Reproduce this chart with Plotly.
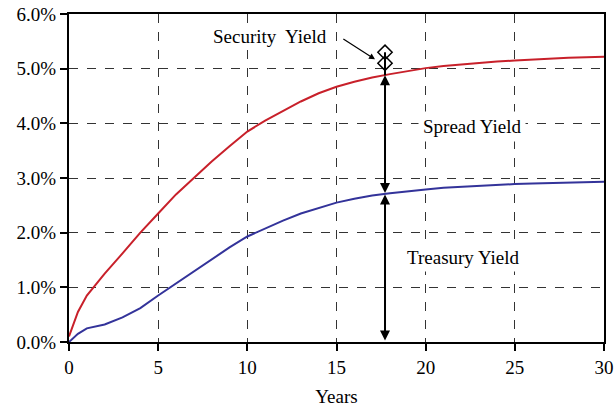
import plotly.graph_objects as go

years = [0, 0.5, 1, 2, 3, 4, 5, 6, 7, 8, 9, 10, 11, 12, 13, 14, 15, 16, 17, 18, 19, 20,
         21, 22, 23, 24, 25, 26, 27, 28, 29, 30]
security_yield = [0.10, 0.55, 0.85, 1.25, 1.62, 2.00, 2.35, 2.70, 3.00, 3.30, 3.58, 3.85,
                  4.05, 4.22, 4.40, 4.55, 4.67, 4.76, 4.84, 4.90, 4.96, 5.01, 5.05, 5.08,
                  5.10, 5.13, 5.15, 5.17, 5.18, 5.20, 5.21, 5.22]
treasury_yield = [0.00, 0.15, 0.25, 0.32, 0.45, 0.62, 0.85, 1.07, 1.30, 1.52, 1.73, 1.93,
                  2.08, 2.22, 2.35, 2.45, 2.55, 2.62, 2.68, 2.72, 2.76, 2.79, 2.82, 2.84,
                  2.86, 2.88, 2.89, 2.90, 2.91, 2.92, 2.92, 2.93]
x_ticks = [0, 5, 10, 15, 20, 25, 30]
y_ticks = [0, 1, 2, 3, 4, 5, 6]
y_tick_labels = ["0.0%", "1.0%", "2.0%", "3.0%", "4.0%", "5.0%", "6.0%"]

marker_x = 17.72
treasury_at_marker = 2.70
security_at_marker = 4.88
diamond_y = [5.10, 5.30]

FONT = "Liberation Serif, Times New Roman, serif"

fig = go.Figure()
fig.add_trace(go.Scatter(x=years, y=security_yield, mode="lines",
                         line=dict(color="#C8202A", width=2), showlegend=False))
fig.add_trace(go.Scatter(x=years, y=treasury_yield, mode="lines",
                         line=dict(color="#33339A", width=2), showlegend=False))
fig.add_trace(go.Scatter(x=[marker_x, marker_x], y=[security_at_marker, diamond_y[1]],
                         mode="lines", line=dict(color="black", width=2), showlegend=False))
fig.add_trace(go.Scatter(x=[marker_x] * len(diamond_y), y=diamond_y, mode="markers",
                         marker=dict(symbol="diamond-open", size=11, color="black",
                                     line=dict(width=1.5, color="black")),
                         showlegend=False))

arrow_common = dict(xref="x", yref="y", axref="x", ayref="y", text="", showarrow=True,
                    arrowhead=2, startarrowhead=2, arrowside="end+start",
                    arrowsize=1, arrowwidth=2, arrowcolor="black")
fig.add_annotation(x=marker_x, y=treasury_at_marker, ax=marker_x, ay=0, **arrow_common)
fig.add_annotation(x=marker_x, y=security_at_marker, ax=marker_x, ay=treasury_at_marker,
                   **arrow_common)

fig.add_annotation(x=17.16, y=5.17, ax=15.3, ay=5.56, xref="x", yref="y", axref="x",
                   ayref="y", text="", showarrow=True, arrowhead=2, arrowsize=1,
                   arrowwidth=1.2, arrowcolor="black")
label_font = dict(family=FONT, size=19, color="black")
fig.add_annotation(x=11.27, y=5.58, xref="x", yref="y", text="Security  Yield",
                   showarrow=False, font=label_font, bgcolor="white")
fig.add_annotation(x=22.6, y=3.95, xref="x", yref="y", text="Spread Yield",
                   showarrow=False, font=label_font, bgcolor="white", borderpad=4)
fig.add_annotation(x=22.1, y=1.54, xref="x", yref="y", text="Treasury Yield",
                   showarrow=False, font=label_font, bgcolor="white", borderpad=3)

fig.update_layout(
    width=615, height=407,
    margin=dict(l=69, r=11, t=14, b=65, autoexpand=False),
    paper_bgcolor="white", plot_bgcolor="white",
    font=dict(family=FONT, size=19, color="black"),
    xaxis=dict(range=[0, 30], tickvals=x_ticks, showgrid=True, gridcolor="#333333",
               griddash="dash", gridwidth=1, showline=True, linecolor="black", linewidth=2,
               mirror=True, ticks="outside", ticklen=7, tickwidth=2, tickcolor="black",
               zeroline=False, automargin=False,
               title=dict(text="Years", standoff=13, font=dict(family=FONT, size=19)),
               tickfont=dict(family=FONT, size=19)),
    yaxis=dict(range=[0, 6], tickvals=y_ticks, ticktext=y_tick_labels, showgrid=True,
               gridcolor="#333333", griddash="dash", gridwidth=1, showline=True,
               linecolor="black", linewidth=2, mirror=True, ticks="outside", ticklen=7,
               tickwidth=2, tickcolor="black", zeroline=False, automargin=False,
               tickfont=dict(family=FONT, size=19)),
)

fig.write_html("out.html", post_script="document.body.style.margin='0';",
               config={"displayModeBar": False})
